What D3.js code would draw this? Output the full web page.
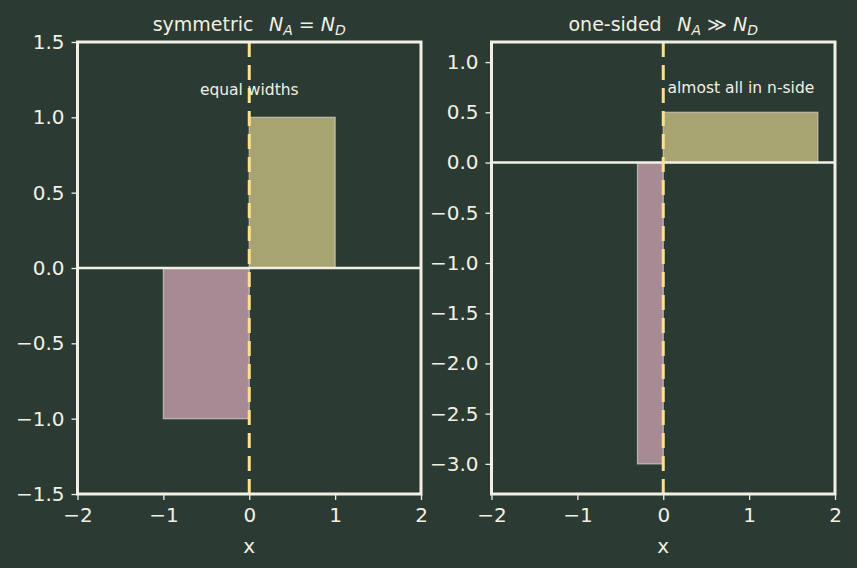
<!DOCTYPE html>
<html><head><meta charset="utf-8">
<script src="https://cdn.jsdelivr.net/npm/d3@7"></script>
<style>
html,body{margin:0;padding:0;background:#2b3a33;}
svg{display:block;font-family:"DejaVu Sans",sans-serif;}
</style></head><body>
<svg id="c" width="857" height="568"></svg>
<script>
// ---- data ----
const panelTitles = ["symmetric", "one-sided"];
const titleOps = ["=", "\u226B"];
// bars: [x0, x1, height] per panel, p-side (negative) then n-side (positive)
const pBars = [[-1, 0, -1], [-0.3, 0, -3]];
const nBars = [[0, 1, 1], [0, 1.8, 0.5]];
const xDomain = [-2, 2];
const yDomains = [[-1.5, 1.5], [-3.3, 1.2]];
const xTicks = [-2, -1, 0, 1, 2];
const yTicks = [[-1.5, -1.0, -0.5, 0.0, 0.5, 1.0, 1.5],
                [-3.0, -2.5, -2.0, -1.5, -1.0, -0.5, 0.0, 0.5, 1.0]];
const notes = [{text: "equal widths", x: 0, y: 1.18, anchor: "middle"},
               {text: "almost all in n-side", x: 0.05, y: 0.74, anchor: "start"}];

const bg = "#2b3a33", fg = "#f2f0e4";
const svg = d3.select("#c");
svg.append("rect").attr("width", 857).attr("height", 568).attr("fill", bg);

const panels = [{x0: 77.5, x1: 421}, {x0: 491.5, x1: 835}];
const plotTop = 42, plotBottom = 494;
const minus = s => s.replace("-", "\u2212");

panels.forEach((p, i) => {
  const x = d3.scaleLinear().domain(xDomain).range([p.x0, p.x1]);
  const y = d3.scaleLinear().domain(yDomains[i]).range([plotBottom, plotTop]);
  const g = svg.append("g");

  // bars
  const bars = [{d: pBars[i], c: "#a68b95"}, {d: nBars[i], c: "#a7a472"}];
  g.selectAll("rect.bar").data(bars).enter().append("rect")
    .attr("x", b => x(b.d[0]))
    .attr("width", b => x(b.d[1]) - x(b.d[0]))
    .attr("y", b => y(Math.max(0, b.d[2])))
    .attr("height", b => Math.abs(y(b.d[2]) - y(0)))
    .attr("fill", b => b.c)
    .attr("stroke", "#d6d3c8").attr("stroke-opacity", 0.7).attr("stroke-width", 1.3);

  // zero line
  g.append("line").attr("x1", p.x0).attr("x2", p.x1).attr("y1", y(0)).attr("y2", y(0))
    .attr("stroke", fg).attr("stroke-width", 2.6);

  // dashed vertical line
  g.append("line").attr("x1", x(0)).attr("x2", x(0)).attr("y1", plotTop).attr("y2", plotBottom)
    .attr("stroke", "#ffe08a").attr("stroke-width", 3).attr("stroke-dasharray", "15 8");

  // note
  g.append("text").attr("x", x(notes[i].x)).attr("y", y(notes[i].y))
    .attr("text-anchor", notes[i].anchor).attr("dominant-baseline", "middle")
    .attr("fill", fg).attr("font-size", 15.5).text(notes[i].text);

  // axes
  const xa = d3.axisBottom(x).tickValues(xTicks).tickFormat(d => minus(d3.format("d")(d))).tickSize(6).tickPadding(8);
  const ya = d3.axisLeft(y).tickValues(yTicks[i]).tickFormat(d => minus(d3.format(".1f")(d))).tickSize(6).tickPadding(7);
  const gx = g.append("g").attr("transform", `translate(0,${plotBottom})`).call(xa);
  const gy = g.append("g").attr("transform", `translate(${p.x0},0)`).call(ya);
  [gx, gy].forEach(a => {
    a.select(".domain").remove();
    a.selectAll(".tick line").attr("stroke", fg).attr("stroke-width", 1.3);
    a.selectAll(".tick text").attr("fill", fg).attr("font-size", 20).attr("font-family", "DejaVu Sans");
  });

  // frame
  g.append("rect").attr("x", p.x0).attr("y", plotTop).attr("width", p.x1 - p.x0).attr("height", plotBottom - plotTop)
    .attr("fill", "none").attr("stroke", fg).attr("stroke-width", 3);

  // x label
  g.append("text").attr("x", (p.x0 + p.x1) / 2).attr("y", 553).attr("text-anchor", "middle")
    .attr("fill", fg).attr("font-size", 20).text("x");

  // title
  const t = g.append("text").attr("x", (p.x0 + p.x1) / 2).attr("y", 31).attr("text-anchor", "middle")
    .attr("fill", fg).attr("font-size", 19);
  t.append("tspan").text(panelTitles[i] + "\u2002 ");
  t.append("tspan").attr("font-style", "italic").text("N");
  t.append("tspan").attr("font-style", "italic").attr("font-size", 14).attr("dy", 4).text("A");
  t.append("tspan").attr("dy", -4).text(" " + titleOps[i] + " ");
  t.append("tspan").attr("font-style", "italic").text("N");
  t.append("tspan").attr("font-style", "italic").attr("font-size", 14).attr("dy", 4).text("D");
});
</script>
</body></html>
